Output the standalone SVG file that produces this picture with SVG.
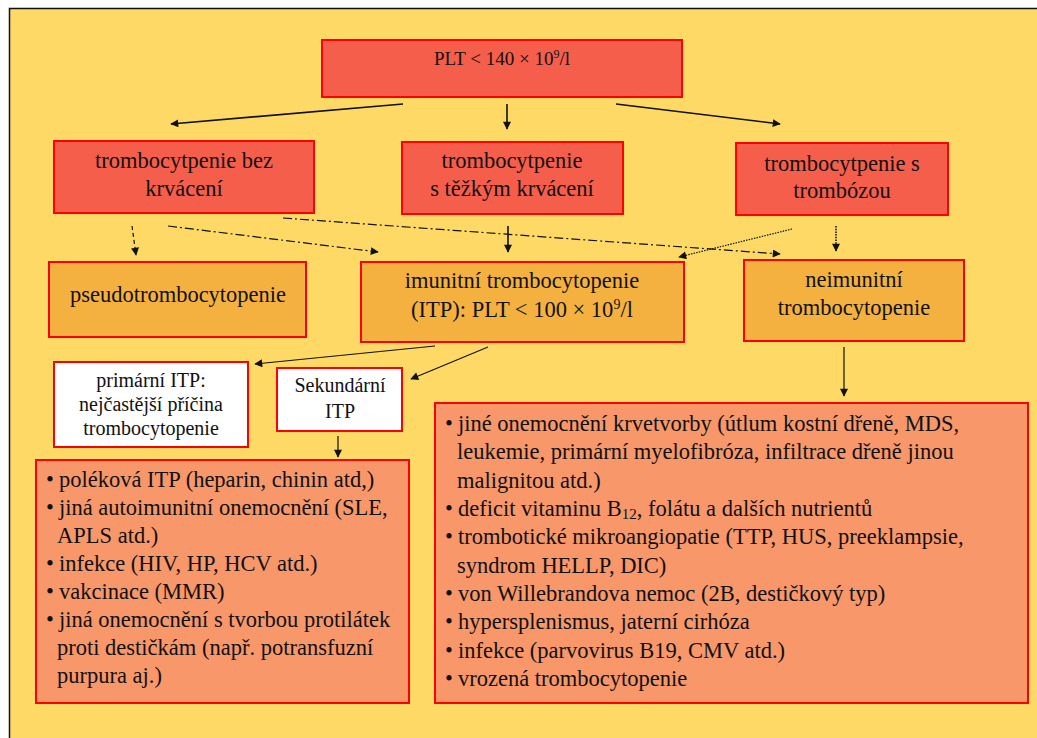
<svg xmlns="http://www.w3.org/2000/svg" width="1037" height="738" viewBox="0 0 1037 738">
<style>
text{font-family:"Liberation Serif","Times New Roman",serif;fill:#111;}
.c{text-anchor:middle;font-size:22.5px;}
.s{text-anchor:middle;font-size:20px;}
.l{font-size:22.5px;}
.red{fill:#F55E4A;stroke:#FF0000;stroke-width:2;}
.org{fill:#F4B13F;stroke:#FF0000;stroke-width:2;}
.wht{fill:#FFFFFF;stroke:#FF0000;stroke-width:2;}
.sal{fill:#F7976A;stroke:#FF0000;stroke-width:2;}
.ln{stroke:#111;stroke-width:1.2;fill:none;marker-end:url(#ah);}
.thick{stroke-width:1.6;}
.dash{stroke-dasharray:4 3;}
.dd{stroke-dasharray:9 3 2 3;}
.dot{stroke-dasharray:1.5 1.2;}
</style>
<defs>
<marker id="ah" viewBox="0 0 10 10" refX="9" refY="5" markerWidth="9" markerHeight="8" markerUnits="userSpaceOnUse" orient="auto">
<path d="M0,0 L10,5 L0,10 z" fill="#111"/>
</marker>
</defs>
<rect x="0" y="0" width="1037" height="738" fill="#FFFFFF"/>
<rect x="9.5" y="8.5" width="1040" height="740" fill="#FED966" stroke="#111" stroke-width="1.5"/>

<g id="connectors">
<line class="ln thick" x1="403" y1="104" x2="171" y2="124"/>
<line class="ln thick" x1="507" y1="104" x2="507" y2="129"/>
<line class="ln thick" x1="616" y1="104" x2="780" y2="124"/>
<line class="ln dash" x1="132" y1="226" x2="136" y2="255"/>
<line class="ln dd" x1="168" y1="226" x2="378" y2="252"/>
<line class="ln dd" x1="283" y1="218" x2="780" y2="254"/>
<line class="ln thick" x1="508" y1="226" x2="508" y2="252"/>
<line class="ln dot thick" x1="836" y1="226" x2="836" y2="251"/>
<line class="ln dot" x1="792" y1="229" x2="679" y2="257"/>
<line class="ln" x1="435" y1="346" x2="255" y2="364"/>
<line class="ln" x1="488" y1="347" x2="411" y2="379"/>
<line class="ln" x1="338" y1="436" x2="338" y2="457"/>
<line class="ln" x1="844" y1="347" x2="844" y2="396"/>
</g>

<g id="plt">
<rect class="red" x="322" y="40" width="360" height="57"/>
<text x="502" y="65" text-anchor="middle" font-size="19">PLT &lt; 140 × 10<tspan dy="-7" font-size="12">9</tspan><tspan dy="7">/l</tspan></text>
</g>

<g id="bez-krvaceni">
<rect class="red" x="54" y="141" width="260" height="72"/>
<text class="c" x="184" y="168">trombocytpenie bez</text>
<text class="c" x="184" y="196">krvácení</text>
</g>

<g id="tezke-krvaceni">
<rect class="red" x="402" y="142" width="221" height="72"/>
<text class="c" x="512" y="168">trombocytpenie</text>
<text class="c" x="512" y="196">s těžkým krvácení</text>
</g>

<g id="tromboza">
<rect class="red" x="736" y="143" width="212" height="72"/>
<text class="c" x="842" y="171">trombocytpenie s</text>
<text class="c" x="842" y="198">trombózou</text>
</g>

<g id="pseudo">
<rect class="org" x="49" y="262" width="257" height="75"/>
<text class="c" x="178" y="302">pseudotrombocytopenie</text>
</g>

<g id="itp">
<rect class="org" x="361" y="262" width="323" height="80"/>
<text class="c" x="522" y="288">imunitní trombocytopenie</text>
<text class="c" x="522" y="317">(ITP): PLT &lt; 100 × 10<tspan dy="-8" font-size="14">9</tspan><tspan dy="8">/l</tspan></text>
</g>

<g id="neimunitni">
<rect class="org" x="744" y="260" width="220" height="81"/>
<text class="c" x="854" y="287">neimunitní</text>
<text class="c" x="854" y="315">trombocytopenie</text>
</g>

<g id="primarni">
<rect class="wht" x="54" y="362" width="194" height="85"/>
<text class="s" x="151" y="387">primární ITP:</text>
<text class="s" x="151" y="411">nejčastější příčina</text>
<text class="s" x="151" y="435">trombocytopenie</text>
</g>

<g id="sekundarni">
<rect class="wht" x="277" y="368" width="125" height="63"/>
<text class="s" x="340" y="392">Sekundární</text>
<text class="s" x="340" y="418">ITP</text>
</g>

<g id="sekundarni-list">
<rect class="sal" x="36" y="460" width="373" height="243"/>
<text class="l">
<tspan x="46" y="487">•</tspan><tspan x="59" y="487">poléková ITP (heparin, chinin atd,)</tspan>
<tspan x="46" y="515">•</tspan><tspan x="59" y="515">jiná autoimunitní onemocnění (SLE,</tspan>
<tspan x="57" y="543">APLS atd.)</tspan>
<tspan x="46" y="571">•</tspan><tspan x="59" y="571">infekce (HIV, HP, HCV atd.)</tspan>
<tspan x="46" y="599">•</tspan><tspan x="59" y="599">vakcinace (MMR)</tspan>
<tspan x="46" y="627">•</tspan><tspan x="59" y="627">jiná onemocnění s tvorbou protilátek</tspan>
<tspan x="57" y="655">proti destičkám (např. potransfuzní</tspan>
<tspan x="57" y="683">purpura aj.)</tspan>
</text>
</g>

<g id="neimunitni-list">
<rect class="sal" x="435" y="403" width="593" height="300"/>
<text class="l">
<tspan x="445" y="431">•</tspan><tspan x="458" y="431">jiné onemocnění krvetvorby (útlum kostní dřeně, MDS,</tspan>
<tspan x="457" y="459">leukemie, primární myelofibróza, infiltrace dřeně jinou</tspan>
<tspan x="457" y="488">malignitou atd.)</tspan>
<tspan x="445" y="516">•</tspan><tspan x="458" y="516">deficit vitaminu B</tspan><tspan font-size="15" dy="3">12</tspan><tspan dy="-3">, folátu a dalších nutrientů</tspan>
<tspan x="445" y="544">•</tspan><tspan x="458" y="544">trombotické mikroangiopatie (TTP, HUS, preeklampsie,</tspan>
<tspan x="457" y="573">syndrom HELLP, DIC)</tspan>
<tspan x="445" y="601">•</tspan><tspan x="458" y="601">von Willebrandova nemoc (2B, destičkový typ)</tspan>
<tspan x="445" y="629">•</tspan><tspan x="458" y="629">hypersplenismus, jaterní cirhóza</tspan>
<tspan x="445" y="658">•</tspan><tspan x="458" y="658">infekce (parvovirus B19, CMV atd.)</tspan>
<tspan x="445" y="686">•</tspan><tspan x="458" y="686">vrozená trombocytopenie</tspan>
</text>
</g>
</svg>
